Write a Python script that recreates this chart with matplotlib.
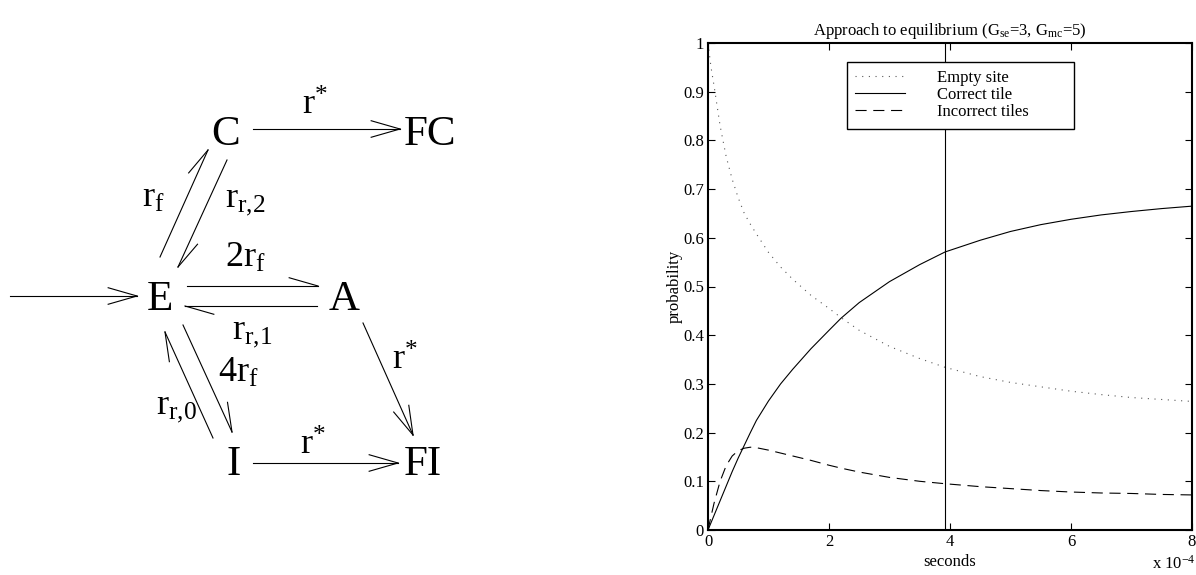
import matplotlib
matplotlib.use('Agg')
import matplotlib.pyplot as plt
import numpy as np

plt.rcParams['font.family'] = 'Liberation Serif'
plt.rcParams['mathtext.fontset'] = 'custom'
plt.rcParams['mathtext.rm'] = 'Liberation Serif'
plt.rcParams['mathtext.it'] = 'Liberation Serif:italic'

# time in units of 1e-4 s
t = [0, 0.05, 0.1, 0.2, 0.3, 0.4, 0.5, 0.6, 0.7, 0.8, 1.0, 1.2, 1.4, 1.7,
     2.0, 2.2, 2.5, 3.0, 3.5, 3.92, 4.5, 5.0, 5.5, 6.0, 6.5, 7.0, 7.5, 8.0]
empty_site = [1.0, 0.95, 0.912, 0.83, 0.767, 0.72, 0.682, 0.65, 0.628, 0.608,
              0.57, 0.54, 0.515, 0.482, 0.455, 0.436, 0.41, 0.377, 0.352, 0.334,
              0.315, 0.303, 0.294, 0.285, 0.278, 0.272, 0.268, 0.264]
correct_tile = [0, 0.015, 0.03, 0.06, 0.09, 0.12, 0.148, 0.174, 0.2, 0.225,
                0.265, 0.3, 0.33, 0.372, 0.41, 0.435, 0.467, 0.51, 0.545, 0.571,
                0.595, 0.613, 0.627, 0.638, 0.647, 0.654, 0.66, 0.665]
incorrect_tiles = [0, 0.028, 0.055, 0.1, 0.132, 0.152, 0.163, 0.168, 0.17, 0.169,
                   0.164, 0.158, 0.152, 0.143, 0.133, 0.127, 0.119, 0.108, 0.1, 0.095,
                   0.089, 0.085, 0.081, 0.078, 0.076, 0.075, 0.073, 0.072]
t_mark = 3.92

xticks = [0, 2, 4, 6, 8]
yticks = [0, 0.1, 0.2, 0.3, 0.4, 0.5, 0.6, 0.7, 0.8, 0.9, 1]

# reaction diagram (pixel coords, y down)
node_names = ['C', 'FC', 'E', 'A', 'I', 'FI']
node_pos = [(211, 145), (404, 145), (147, 310), (329, 310), (226, 475), (404, 475)]

# (tail, tip, barbs)
edges = [((10, 296), (137, 296), 'both'),
         ((253, 129), (400, 129), 'both'),
         ((160, 257), (208, 150), 'left'),
         ((227, 160), (178, 267), 'left'),
         ((187, 286), (318, 286), 'left'),
         ((317, 306), (185, 306), 'left'),
         ((213, 438), (165, 332), 'left'),
         ((183, 325), (232, 432), 'left'),
         ((363, 323), (413, 435), 'both'),
         ((253, 463), (398, 463), 'both')]

rate_labels = [r'$\mathrm{r}^{*}$', r'$\mathrm{r}_{\mathrm{f}}$', r'$\mathrm{r}_{\mathrm{r{,}2}}$',
               r'$\mathrm{2r}_{\mathrm{f}}$', r'$\mathrm{r}_{\mathrm{r{,}1}}$', r'$\mathrm{4r}_{\mathrm{f}}$',
               r'$\mathrm{r}_{\mathrm{r{,}0}}$', r'$\mathrm{r}^{*}$', r'$\mathrm{r}^{*}$']
rate_pos = [(302, 115), (142, 207), (225, 206), (225, 267), (232, 338),
            (218, 382), (156, 413), (392, 370), (300, 455)]


def draw_arrow(ax, p0, p1, barbs, L=30, ang=16):
    x0, y0 = p0
    x1, y1 = p1
    ax.plot([x0, x1], [y0, y1], color='k', lw=0.8)
    d = np.array([x1 - x0, y1 - y0], dtype=float)
    d /= np.hypot(*d)
    b = -d
    nl = np.array([d[1], -d[0]])
    th = np.radians(ang)
    sides = [1, -1] if barbs == 'both' else [1]
    for s in sides:
        e = np.array([x1, y1]) + L * (np.cos(th) * b + s * np.sin(th) * nl)
        ax.plot([x1, e[0]], [y1, e[1]], color='k', lw=0.8)


fig = plt.figure(figsize=(11.96, 5.75), dpi=100)

dg = fig.add_axes([0, 0, 1, 1])
dg.set_xlim(0, 1196)
dg.set_ylim(575, 0)
dg.axis('off')
for (p0, p1, barbs) in edges:
    draw_arrow(dg, p0, p1, barbs)
for name, (x, y) in zip(node_names, node_pos):
    dg.text(x, y, name, fontsize=31, ha='left', va='baseline')
for lab, (x, y) in zip(rate_labels, rate_pos):
    dg.text(x, y, lab, fontsize=26, ha='left', va='baseline')

ax = fig.add_axes([708 / 1196, 45 / 575, 484 / 1196, 487 / 575])
ax.plot(t, empty_site, color='0.35', lw=0.8, linestyle=(0, (1, 5)), label='Empty site')
ax.plot(t, correct_tile, color='k', lw=0.8, label='Correct tile')
ax.plot(t, incorrect_tiles, color='k', lw=0.8, linestyle=(0, (10, 6)), label='Incorrect tiles')
ax.axvline(t_mark, color='k', lw=0.8)

ax.set_xlim(0, 8)
ax.set_ylim(0, 1)
ax.set_xticks(xticks)
ax.set_yticks(yticks)
ax.set_xticklabels(['%g' % v for v in xticks])
ax.set_yticklabels(['%g' % v for v in yticks])
ax.tick_params(direction='in', top=True, right=True, length=5, width=0.8,
               labelsize=12, pad=3)
for sp in ax.spines.values():
    sp.set_linewidth(1.5)

ax.set_title('Approach to equilibrium (G$_{\\mathrm{se}}$=3, G$_{\\mathrm{mc}}$=5)', fontsize=12, pad=6)
ax.set_xlabel('seconds', fontsize=12, labelpad=3)
ax.set_ylabel('probability', fontsize=12, labelpad=0)
fig.text(0.9995, 0.004, 'x 10$^{-4}$', fontsize=12, ha='right', va='bottom')

leg = ax.legend(loc='upper left', bbox_to_anchor=(0.287, 0.825, 0.469, 0.136),
                mode='expand', fontsize=12, fancybox=False, edgecolor='k',
                framealpha=1, handlelength=3.0, handletextpad=1.9,
                borderpad=0.5, labelspacing=0.06, borderaxespad=0)
leg.get_frame().set_linewidth(1.0)

fig.savefig('out.png', dpi=100)
